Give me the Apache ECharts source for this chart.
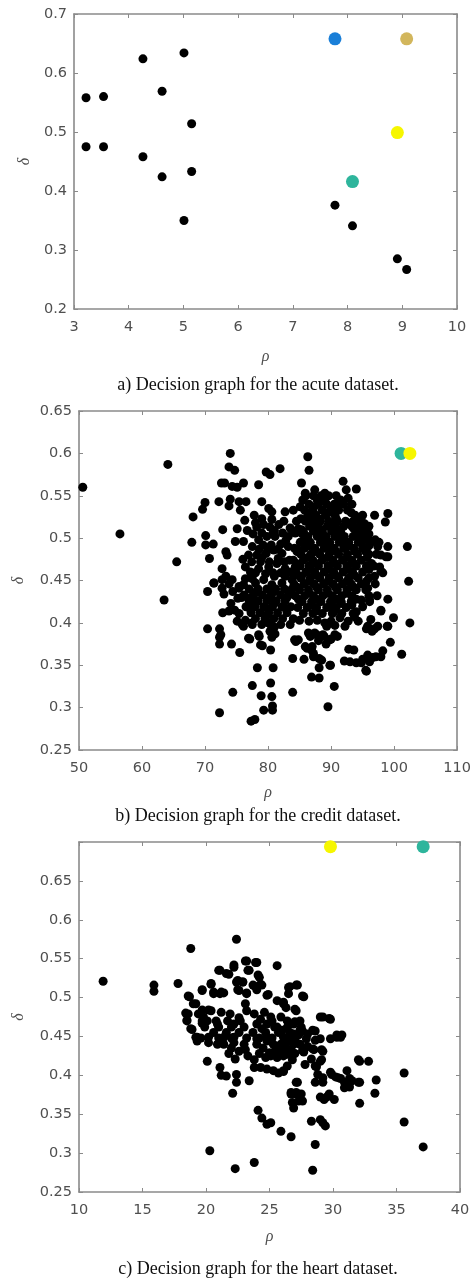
<!DOCTYPE html>
<html>
<head>
<meta charset="utf-8">
<script src="https://cdn.jsdelivr.net/npm/echarts@6/dist/echarts.min.js"></script>
<style>
html,body{margin:0;padding:0;background:#fff;}
#chart{width:474px;height:1278px;}
</style>
</head>
<body>
<div id="chart"></div>
<script>
// ---------- Panel a: acute dataset ----------
var acuteBlack = [
  [3.22,0.558],[3.54,0.560],[3.22,0.475],[3.54,0.475],[4.26,0.624],[4.61,0.569],
  [5.01,0.634],[5.15,0.514],[4.26,0.458],[4.61,0.424],[5.15,0.433],[5.01,0.350],
  [7.77,0.376],[8.09,0.341],[8.91,0.285],[9.08,0.267]
];
var acuteCenters = [[7.77,0.658],[9.08,0.658],[8.91,0.499],[8.09,0.416]];
var acuteColors = ['#1a7fd8','#d2b65c','#f6f600','#2eb59c'];

// ---------- Panel b: credit dataset ----------
var creditBlack = [
  [50.6,0.560],[56.5,0.505],[64.1,0.587],[63.5,0.427],[65.5,0.472],
  [74.0,0.600],[73.8,0.584],[74.7,0.580],[72.6,0.565],[73.1,0.565],[74.3,0.561],[75.1,0.560],[76.1,0.565],[78.5,0.563],
  [79.7,0.578],[80.3,0.575],[81.9,0.582],[86.3,0.596],[86.5,0.580],[85.3,0.565],
  [70.0,0.542],[69.6,0.534],[68.1,0.525],[72.2,0.543],[74.0,0.546],[75.4,0.543],[76.5,0.543],[73.8,0.538],[75.6,0.533],
  [79.0,0.543],[80.1,0.535],[80.6,0.531],[82.7,0.531],[84.0,0.533],[85.1,0.537],
  [72.8,0.510],[67.9,0.495],[70.1,0.503],[70.1,0.492],[71.3,0.493],[73.3,0.484],[73.5,0.480],[70.7,0.476],
  [75.1,0.511],[76.7,0.509],[74.8,0.496],[76.1,0.496],[78.2,0.513],[79.3,0.516],[80.3,0.513],[81.7,0.516],
  [77.5,0.490],[78.5,0.498],[79.8,0.502],[81.1,0.502],
  [76.9,0.480],[78.2,0.480],[79.7,0.482],[80.9,0.486],[82.2,0.482],[83.2,0.502],[84.3,0.506],[85.3,0.510],[83.2,0.490],[84.8,0.486],
  [76.4,0.466],[77.2,0.460],[78.5,0.464],[80.1,0.466],[81.4,0.470],[82.7,0.464],[84.3,0.466],[72.7,0.464],[73.3,0.455],
  [71.4,0.447],[72.7,0.451],[74.3,0.451],[75.4,0.443],[78.0,0.447],[79.3,0.451],[80.6,0.445],[82.2,0.447],[83.8,0.451],[85.3,0.455],
  [91.9,0.567],[92.4,0.557],[94.0,0.558],[91.4,0.543],[92.7,0.547],[85.9,0.553],[87.4,0.557],[89.0,0.553],
  [96.9,0.527],[99.0,0.529],[98.6,0.519],[102.1,0.490],[102.3,0.449],[95.8,0.501],[95.3,0.488],[97.4,0.490],[99.0,0.490],
  [98.7,0.478],[97.7,0.466],[98.2,0.459],[97.9,0.480],[99.0,0.478],[96.4,0.470],[97.9,0.461],[96.9,0.455],[95.8,0.441],
  [96.1,0.427],[97.9,0.415],[99.0,0.428],[95.6,0.502],
  // dense core
  [86.0,0.550],[87.2,0.550],[88.4,0.550],[89.6,0.550],[90.8,0.550],
  [85.5,0.545],[87.8,0.545],[89.0,0.545],[91.5,0.545],
  [86.5,0.540],[88.0,0.540],[89.3,0.540],[90.5,0.540],[92.0,0.540],[93.3,0.540],
  [85.8,0.533],[87.1,0.533],[88.6,0.533],[90.0,0.533],[91.2,0.533],[92.6,0.533],
  [86.3,0.527],[87.6,0.527],[89.1,0.527],[90.6,0.527],[93.8,0.527],[95.0,0.527],
  [84.5,0.520],[85.9,0.520],[87.0,0.520],[88.3,0.520],[89.6,0.520],[91.0,0.520],[92.3,0.520],[93.5,0.520],[94.8,0.520],
  [86.6,0.514],[88.0,0.514],[89.4,0.514],[90.7,0.514],[92.0,0.514],[93.3,0.514],[94.5,0.514],[96.0,0.514],
  [84.0,0.508],[85.6,0.508],[87.2,0.508],[88.6,0.508],[90.1,0.508],[91.5,0.508],[95.2,0.508],
  [86.3,0.502],[87.8,0.502],[89.2,0.502],[90.6,0.502],[92.1,0.502],[93.5,0.502],[94.9,0.502],
  [85.1,0.495],[86.7,0.495],[88.3,0.495],[89.8,0.495],[91.3,0.495],[92.8,0.495],[94.3,0.495],[96.3,0.495],[97.6,0.495],
  [84.2,0.488],[85.8,0.488],[87.4,0.488],[88.9,0.488],[90.5,0.488],[92.0,0.488],[93.6,0.488],[95.0,0.488],
  [85.2,0.481],[86.8,0.481],[88.2,0.481],[89.7,0.481],[91.2,0.481],[92.6,0.481],[94.2,0.481],[96.0,0.481],[97.2,0.481],
  [84.0,0.474],[85.6,0.474],[87.1,0.474],[88.6,0.474],[90.3,0.474],[91.8,0.474],[93.3,0.474],[94.8,0.474],
  [85.1,0.467],[86.5,0.467],[88.0,0.467],[89.5,0.467],[91.0,0.467],[92.5,0.467],[94.0,0.467],[95.6,0.467],[96.8,0.467],
  [84.4,0.460],[86.0,0.460],[87.4,0.460],[88.9,0.460],[90.4,0.460],[91.9,0.460],[93.4,0.460],[95.0,0.460],
  [85.2,0.453],[86.7,0.453],[88.2,0.453],[89.7,0.453],[91.2,0.453],[92.8,0.453],[94.3,0.453],[96.0,0.453],
  [84.1,0.446],[85.7,0.446],[87.3,0.446],[88.8,0.446],[90.3,0.446],[91.8,0.446],[93.2,0.446],[94.8,0.446],[97.0,0.446],
  [85.0,0.439],[86.4,0.439],[88.0,0.439],[89.4,0.439],[91.0,0.439],[92.5,0.439],[94.0,0.439],[95.5,0.439],
  [84.3,0.432],[85.8,0.432],[87.2,0.432],[88.7,0.432],[90.2,0.432],[91.7,0.432],[93.3,0.432],[96.0,0.432],[97.3,0.432],
  [85.4,0.425],[86.9,0.425],[88.4,0.425],[89.9,0.425],[91.6,0.425],[93.2,0.425],[94.8,0.427],[96.1,0.425],
  [84.7,0.418],[86.2,0.418],[87.7,0.418],[89.3,0.418],[90.8,0.418],[92.4,0.418],[95.0,0.419],
  [85.6,0.411],[87.1,0.411],[88.6,0.411],[90.2,0.411],[91.7,0.411],[93.5,0.411],
  // dense core, some in-between points
  [88.8,0.547],
  [87.3,0.537],[90.9,0.537],
  [86.6,0.530],[89.5,0.530],[93.2,0.530],
  [85.2,0.523],[88.0,0.523],[90.8,0.523],[94.2,0.523],
  [87.4,0.517],[90.0,0.517],[92.7,0.517],[95.3,0.517],
  [84.8,0.511],[87.9,0.511],[90.8,0.511],[93.6,0.511],
  [85.4,0.505],[88.5,0.505],[91.3,0.505],[94.2,0.505],[96.0,0.505],
  [85.8,0.498],[89.0,0.498],[92.0,0.498],[95.2,0.498],[97.0,0.498],
  [86.5,0.491],[89.6,0.491],[92.7,0.491],[96.0,0.491],
  [84.6,0.484],[87.7,0.484],[90.8,0.484],[93.8,0.484],[95.5,0.484],
  [86.3,0.477],[89.4,0.477],[92.5,0.477],[95.7,0.477],
  [84.5,0.470],[87.6,0.470],[90.6,0.470],[93.6,0.470],
  [86.7,0.463],[89.7,0.463],[92.7,0.463],[96.0,0.463],
  [84.8,0.456],[87.7,0.456],[90.7,0.456],[93.7,0.456],
  [86.5,0.449],[89.5,0.449],[92.5,0.449],[95.6,0.449],
  [84.6,0.442],[87.7,0.442],[90.7,0.442],[93.6,0.442],
  [86.5,0.435],[89.5,0.435],[92.5,0.435],
  [84.8,0.428],[87.7,0.428],[90.8,0.428],[94.0,0.428],
  [86.9,0.421],[90.1,0.421],[93.3,0.421],
  [87.6,0.414],[90.5,0.414],
  // left-centre block
  [77.0,0.440],[78.4,0.440],[79.8,0.440],[81.2,0.440],[82.6,0.440],[83.8,0.440],
  [76.2,0.433],[77.7,0.433],[79.1,0.433],[80.5,0.433],[82.0,0.433],[83.3,0.433],
  [77.0,0.426],[78.4,0.426],[79.8,0.426],[81.3,0.426],[82.7,0.426],
  [76.5,0.419],[77.9,0.419],[79.3,0.419],[80.7,0.419],[82.2,0.419],[83.6,0.419],
  [77.3,0.412],[78.7,0.412],[80.1,0.412],[81.5,0.412],[83.0,0.412],
  [78.0,0.405],[79.5,0.405],[80.9,0.405],[82.3,0.405],[84.0,0.405],
  [79.0,0.398],[80.4,0.398],[82.0,0.398],[83.5,0.398],
  [78.2,0.437],[81.0,0.437],[77.3,0.430],[80.2,0.430],[83.0,0.430],[78.0,0.423],[81.0,0.423],
  [77.2,0.416],[80.0,0.416],[82.9,0.416],[79.8,0.409],
  [78.0,0.459],[80.8,0.459],[82.0,0.459],[77.4,0.472],[80.2,0.472],[82.6,0.472],[78.6,0.487],[81.6,0.487],
  [79.0,0.506],[80.8,0.506],[82.3,0.506],[78.0,0.518],[81.0,0.509],[82.8,0.497],[79.0,0.477],[83.6,0.460],[80.0,0.487],
  [77.8,0.527],[79.0,0.523],[80.6,0.522],[82.5,0.520],[83.5,0.512],[82.0,0.493],[80.5,0.492],[79.2,0.492],[77.6,0.505],
  [76.3,0.521],[76.0,0.475],[78.8,0.472],[81.6,0.476],[83.4,0.474],[82.7,0.455],[81.0,0.455],[79.6,0.458],[77.5,0.452],
  [76.4,0.452],[75.8,0.430],[74.4,0.437],[73.0,0.434],[74.1,0.423],[72.8,0.412],[74.7,0.415],
  [71.4,0.447],[72.7,0.441],[73.8,0.446],[75.4,0.441],[76.1,0.445],[70.4,0.437],[75.2,0.429],
  // lower region
  [70.4,0.393],[72.3,0.393],[72.3,0.383],[72.3,0.375],[74.2,0.375],[75.5,0.365],[77.1,0.381],[78.6,0.384],[79.1,0.373],
  [80.4,0.368],[78.3,0.347],[80.8,0.347],[77.5,0.326],[80.4,0.329],[74.4,0.318],[78.9,0.314],[80.6,0.313],[80.7,0.302],
  [80.7,0.297],[79.3,0.297],[72.3,0.294],[77.3,0.284],[77.9,0.286],[83.9,0.318],[89.5,0.301],[90.5,0.325],[89.9,0.350],
  [86.9,0.336],[88.1,0.335],[88.1,0.347],[83.9,0.358],[85.7,0.357],[86.2,0.370],[87.0,0.372],[87.2,0.364],[88.1,0.358],
  [86.7,0.384],[87.7,0.386],[88.9,0.384],[88.0,0.379],[89.2,0.375],[90.0,0.381],[91.0,0.384],[84.4,0.378],[93.6,0.368],
  [93.0,0.354],[94.8,0.353],[96.1,0.354],[96.6,0.359],[97.1,0.360],[97.9,0.360],[95.6,0.343],[98.2,0.367],[99.4,0.377],
  [101.2,0.363],[102.5,0.400],[98.9,0.396],[96.9,0.393],[95.6,0.393],[96.5,0.390],[94.3,0.402],[92.2,0.396],[90.6,0.397],
  [89.3,0.396],[80.6,0.383],[81.1,0.387],[80.0,0.400],[81.0,0.395],[75.9,0.398],[76.4,0.403],[77.5,0.398],
  [73.8,0.414],[75.4,0.411],[75.1,0.402],[76.1,0.396],[77.4,0.400],[72.5,0.386],[76.9,0.382],[78.5,0.386],[78.8,0.374],
  [80.3,0.390],[84.2,0.380],[97.9,0.414],[99.9,0.406],[99.0,0.396],[96.3,0.404],[95.8,0.396],[97.4,0.396],[95.8,0.362],
  [95.0,0.357],[94.0,0.353],[92.1,0.355],[95.5,0.344],[92.8,0.369],[89.8,0.350],[87.2,0.360],[88.5,0.356],[85.9,0.372],
  [86.9,0.368],[86.4,0.388],[87.4,0.388],[88.7,0.386],[89.8,0.380],[90.6,0.386],[89.0,0.400],[90.0,0.402],[91.4,0.406],
  [92.7,0.402],[93.7,0.407],[94.0,0.413],[91.6,0.423],[93.2,0.425],[84.8,0.380],[85.0,0.403],[86.5,0.402],[87.8,0.403]
];
var creditCenters = [[101.1,0.600],[102.5,0.600]];
var creditColors = ['#2eb59c','#f6f600'];

// ---------- Panel c: heart dataset ----------
var heartBlack = [
  [11.9,0.521],[18.8,0.563],[22.4,0.575],[15.9,0.516],[15.9,0.508],[17.8,0.518],[18.7,0.501],[19.2,0.492],[19.7,0.509],
  [18.6,0.479],[18.5,0.470],[18.9,0.459],[19.4,0.479],[19.7,0.470],[20.4,0.517],[20.6,0.505],[21.1,0.505],[21.4,0.506],
  [20.4,0.483],[21.2,0.481],[21.9,0.479],[21.1,0.535],[21.8,0.530],[22.2,0.539],[22.4,0.520],[22.9,0.520],[22.6,0.509],
  [23.2,0.505],[23.2,0.547],[23.4,0.535],[24.0,0.545],[24.2,0.526],[23.8,0.515],[24.4,0.516],[23.1,0.492],[23.2,0.483],
  [23.8,0.479],[24.6,0.481],[25.1,0.475],[24.8,0.503],[25.6,0.496],[25.6,0.541],[26.1,0.494],[26.3,0.487],[25.9,0.475],
  [26.4,0.470],[26.9,0.466],[27.1,0.483],[26.5,0.513],[26.5,0.505],[27.2,0.516],[27.7,0.501],[29.2,0.475],[29.8,0.472],
  [20.1,0.470],[20.9,0.466],[21.7,0.470],[22.2,0.466],[22.7,0.470],[24.0,0.466],[24.8,0.466],[25.6,0.462],[26.4,0.462],
  [26.9,0.453],[27.6,0.457],[28.0,0.453],[28.6,0.457],[29.0,0.447],[30.3,0.449],[30.6,0.449],[19.3,0.449],[20.2,0.449],
  [21.4,0.449],[22.2,0.449],[24.0,0.447],[24.8,0.449],[26.1,0.449],[26.6,0.447],
  [19.3,0.444],[20.2,0.442],[21.4,0.440],[22.2,0.442],[24.0,0.440],[24.8,0.444],[25.6,0.431],[26.1,0.433],[26.7,0.433],
  [26.4,0.427],[26.9,0.440],[26.5,0.444],[25.9,0.440],[26.1,0.425],[26.8,0.427],[25.6,0.423],
  [20.1,0.418],[21.1,0.410],[21.2,0.400],[21.6,0.399],[22.4,0.401],[22.4,0.391],[22.1,0.377],[22.3,0.421],[23.4,0.393],
  [23.3,0.425],[23.1,0.433],[22.6,0.431],[23.8,0.410],[24.3,0.410],[24.8,0.408],[25.3,0.406],[25.7,0.403],[26.1,0.405],
  [24.7,0.423],[25.1,0.425],[27.7,0.430],[27.2,0.391],[26.7,0.376],[27.1,0.378],[27.5,0.376],[26.8,0.365],[27.3,0.367],
  [26.9,0.358],[27.6,0.367],[28.5,0.433],[29.2,0.431],[28.6,0.412],[29.0,0.418],[28.8,0.401],[29.2,0.397],[28.6,0.391],
  [29.2,0.391],[29.9,0.401],[30.4,0.397],[31.1,0.406],[30.9,0.391],[31.5,0.393],[32.1,0.391],[30.9,0.384],[32.1,0.418],
  [32.8,0.418],[33.4,0.394],[33.3,0.377],[32.1,0.364],[29.3,0.369],[29.7,0.376],[30.1,0.369],[35.6,0.403],[35.6,0.340],
  [37.1,0.308],[24.1,0.355],[24.4,0.345],[24.8,0.337],[25.1,0.339],[25.9,0.328],[26.7,0.321],[28.3,0.341],[29.0,0.343],
  [29.2,0.339],[29.4,0.335],[28.6,0.311],[20.3,0.303],[22.3,0.280],[23.8,0.288],[28.4,0.278],
  [26.6,0.514],[27.1,0.516],[27.6,0.502],[27.0,0.485],[26.1,0.492],[27.0,0.469],[27.4,0.458],[28.4,0.458],[27.9,0.447],
  [28.6,0.445],[29.0,0.475],[29.7,0.473],[29.8,0.447],[30.3,0.452],[30.7,0.452],[27.6,0.432],[28.4,0.434],[29.1,0.433],
  [32.0,0.420],[29.1,0.420],[28.7,0.411],[29.8,0.404],[30.2,0.398],[30.6,0.396],[31.3,0.396],[32.0,0.391],[31.3,0.385],
  [29.5,0.372],[29.0,0.372],[27.1,0.391],[26.7,0.378],[27.1,0.376],[26.1,0.406],
  [21.0,0.535],[21.6,0.531],[22.2,0.542],[23.1,0.547],[23.9,0.545],[23.3,0.535],[24.1,0.529],[20.4,0.518],[19.7,0.510],
  [22.5,0.522],[22.9,0.520],[22.5,0.510],[23.2,0.506],[23.7,0.516],[24.3,0.517],[24.0,0.510],[20.6,0.507],[21.2,0.507],
  [24.9,0.504],[18.6,0.502],[19.0,0.492],[18.4,0.480],[18.5,0.471],[18.8,0.460],[19.2,0.449],[19.7,0.484],[20.2,0.484],
  [19.8,0.475],[19.7,0.467],
  [20.8,0.470],[22.6,0.474],[24.3,0.472],[25.2,0.470],[27.4,0.470],
  [19.9,0.462],[21.0,0.462],[22.0,0.462],[23.0,0.462],[24.4,0.460],[25.4,0.462],[26.0,0.458],[27.5,0.462],
  [20.6,0.455],[21.6,0.455],[22.6,0.455],[23.7,0.455],[24.7,0.455],[25.7,0.455],[26.6,0.455],[27.3,0.452],
  [19.6,0.448],[21.0,0.448],[22.0,0.448],[23.2,0.448],[24.2,0.448],[25.2,0.448],[26.2,0.446],[27.0,0.446],
  [20.9,0.440],[23.0,0.440],[25.3,0.440],[26.0,0.437],[27.4,0.440],
  [22.0,0.435],[24.5,0.435],[25.5,0.435],[26.3,0.436],[28.0,0.437],
  [21.8,0.428],[24.2,0.428],[25.0,0.429],[26.0,0.428],[27.0,0.428],
  [23.8,0.420],[26.8,0.420],[28.3,0.421],[26.4,0.412],[27.8,0.414]
];
var heartCenters = [[29.8,0.694],[37.1,0.694]];
var heartColors = ['#f6f600','#2eb59c'];

// ---------- axis ranges / captions ----------
var xRanges = [[3,10,1],[50,110,10],[10,40,5]];
var yRanges = [[0.2,0.7,0.1],[0.25,0.65,0.05],[0.25,0.7,0.05]];
var captions = ['a) Decision graph for the acute dataset.','b) Decision graph for the credit dataset.','c) Decision graph for the heart dataset.'];

var grids = [
  {left:74, top:14, width:383, height:295},
  {left:79, top:411, width:381, height:339},
  {left:79, top:842, width:381, height:350}
];
var xNameGap = [40, 35, 37];
var yNameGap = [38, 52, 52];
var captionY = [385, 816, 1269];

var lineC = '#8a8a8a';
var labelC = '#4f4f4f';
var tickFont = 'DejaVu Sans, Liberation Sans, Arial';
var xAxes = [], yAxes = [];
for (var i = 0; i < 3; i++) {
  var common = {
    gridIndex: i,
    axisLine: {show:true, onZero:false, lineStyle:{color:lineC, width:1.6}},
    axisTick: {show:true, inside:true, length:4, lineStyle:{color:lineC, width:1}},
    splitLine: {show:false}
  };
  xAxes.push(Object.assign({}, common, {
    type:'value', position:'bottom', min:xRanges[i][0], max:xRanges[i][1], interval:xRanges[i][2],
    axisLabel:{color:labelC, fontSize:14.5, fontFamily:tickFont, margin:11},
    name:'ρ', nameLocation:'middle', nameGap:xNameGap[i],
    nameTextStyle:{color:labelC, fontSize:16, fontStyle:'italic', fontFamily:'Liberation Serif, serif'}
  }));
  xAxes.push(Object.assign({}, common, {
    type:'value', position:'top', min:xRanges[i][0], max:xRanges[i][1], interval:xRanges[i][2],
    axisLabel:{show:false}
  }));
  (function(idx){
    yAxes.push(Object.assign({}, common, {
      type:'value', position:'left', min:yRanges[idx][0], max:yRanges[idx][1], interval:yRanges[idx][2],
      axisLabel:{color:labelC, fontSize:14.5, fontFamily:tickFont, margin:7,
        formatter:function(v){ if (idx === 2 && v > 0.69) return ''; return String(+v.toFixed(2)); }},
      name:'δ', nameLocation:'middle', nameGap:yNameGap[idx], nameRotate:90,
      nameTextStyle:{color:labelC, fontSize:16, fontStyle:'italic', fontFamily:'Liberation Serif, serif'}
    }));
  })(i);
  yAxes.push(Object.assign({}, common, {
    type:'value', position:'right', min:yRanges[i][0], max:yRanges[i][1], interval:yRanges[i][2],
    axisLabel:{show:false}
  }));
}

var series = [];
function addPanel(i, black, centers, colors, bs, cs) {
  series.push({type:'scatter', xAxisIndex:2*i, yAxisIndex:2*i, data:black, symbolSize:bs,
    itemStyle:{color:'#000', opacity:1}, silent:true, z:3, clip:false});
  centers.forEach(function(p, k){
    series.push({type:'scatter', xAxisIndex:2*i, yAxisIndex:2*i, data:[p], symbolSize:cs,
      itemStyle:{color:colors[k], opacity:1}, silent:true, z:4, clip:false});
  });
}
addPanel(0, acuteBlack, acuteCenters, acuteColors, 9, 13);
addPanel(1, creditBlack, creditCenters, creditColors, 9, 13);
addPanel(2, heartBlack, heartCenters, heartColors, 9, 13);

var graphics = captions.map(function(t, k){
  return {type:'text', x:258, y:captionY[k],
    style:{text:t, fill:'#111', font:'18px "Liberation Serif", "Times New Roman", serif',
      textAlign:'center', textVerticalAlign:'middle'}};
});

var chart = echarts.init(document.getElementById('chart'), null, {renderer:'canvas'});
chart.setOption({
  animation:false,
  backgroundColor:'#fff',
  grid:grids,
  xAxis:xAxes,
  yAxis:yAxes,
  series:series,
  graphic:graphics
});
</script>
</body>
</html>
